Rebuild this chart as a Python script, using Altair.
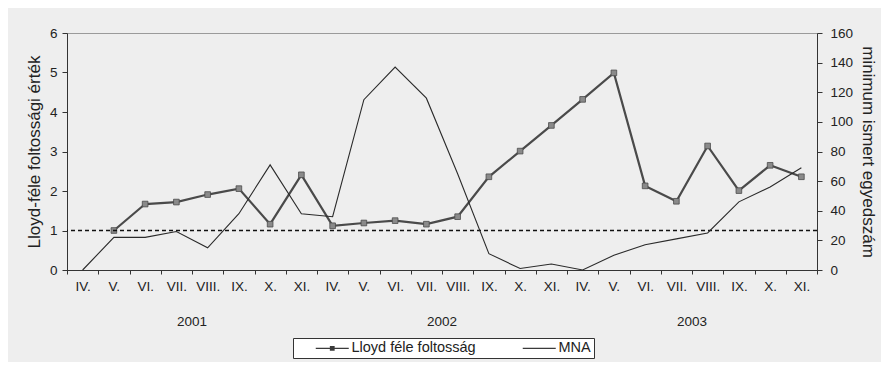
import altair as alt
import pandas as pd

# ---- data ----
months = ["IV.", "V.", "VI.", "VII.", "VIII.", "IX.", "X.", "XI."]
years = ["2001", "2002", "2003"]
lloyd = [None, 1.00, 1.67, 1.72, 1.91, 2.06, 1.16, 2.41,
         1.12, 1.19, 1.25, 1.16, 1.35, 2.36, 3.01, 3.66,
         4.32, 4.99, 2.13, 1.74, 3.14, 2.01, 2.65, 2.36]
mna = [0, 22, 22, 26, 15, 38, 71, 38,
       36, 115, 137, 116, 65, 11, 1, 4,
       0, 10, 17, 21, 25, 46, 56, 69]
threshold = [1]
series_names = ["Lloyd féle foltosság", "MNA"]
left_ticks = [0, 1, 2, 3, 4, 5, 6]
right_ticks = [0, 20, 40, 60, 80, 100, 120, 140, 160]

keys = [f"{y} {m}" for y in years for m in months]
df = pd.DataFrame({"key": keys, "lloyd": lloyd, "mna": mna})
year_df = pd.DataFrame({"year": years, "key": [f"{y} VII." for y in years]})
thr_df = pd.DataFrame({"t": threshold})
leg_df = pd.DataFrame({"series": series_names})

FONT = "Liberation Sans, Arial, sans-serif"
NARROW = "Liberation Sans Narrow, Arial Narrow, Liberation Sans, sans-serif"
LEFT_TITLE = "Lloyd-féle foltossági érték"
W, H = 750, 237

left_axis = alt.Axis(values=left_ticks, tickCount=7, tickSize=5, labelPadding=5,
                     titlePadding=6, grid=False, domainColor="#333",
                     tickColor="#333", labelFont=FONT, labelFontSize=13.5,
                     labelColor="#222", titleFont=FONT, titleFontSize=17,
                     titleFontWeight="normal", titleColor="#222")
left_scale = alt.Scale(domain=[0, 6])

xenc = alt.X(
    "key:N", sort=keys, title=None,
    scale=alt.Scale(type="band", paddingInner=0, paddingOuter=0),
    axis=alt.Axis(labelExpr="split(datum.label, ' ')[1]", labelAngle=0,
                  tickBand="extent", tickSize=4, labelPadding=5,
                  labelFont=NARROW, labelFontSize=13.5, labelColor="#222",
                  domainColor="#333", tickColor="#333", grid=False),
)

lloyd_line = alt.Chart(df).mark_line(color="#4a4a4a", strokeWidth=2.2).encode(
    x=xenc,
    y=alt.Y("lloyd:Q", title=LEFT_TITLE, scale=left_scale, axis=left_axis),
)
lloyd_pts = alt.Chart(df).mark_square(size=32, color="#8a8a8a", stroke="#4a4a4a",
                                      strokeWidth=0.8, opacity=1).encode(
    x=alt.X("key:N", sort=keys),
    y=alt.Y("lloyd:Q", title=LEFT_TITLE, scale=left_scale, axis=left_axis),
)
rule = alt.Chart(thr_df).mark_rule(color="#111", strokeWidth=1.6,
                                   strokeDash=[4, 3]).encode(
    y=alt.Y("t:Q", title=LEFT_TITLE, scale=left_scale, axis=left_axis),
)
year_text = alt.Chart(year_df).mark_text(font=FONT, fontSize=13.5, color="#222",
                                         baseline="middle").encode(
    x=alt.X("key:N", sort=keys, bandPosition=1),
    y=alt.value(H + 52),
    text="year:N",
)

# legend symbols: a line with a small (stroke-filled) square, and a plain line
pathL = ("M-2.75,0L2.75,0"
         "M-0.4,-0.3L0.4,-0.3M-0.4,-0.1L0.4,-0.1"
         "M-0.4,0.1L0.4,0.1M-0.4,0.3L0.4,0.3")
pathM = "M-2.75,0L2.75,0"
legend_layer = alt.Chart(leg_df).mark_point(size=0, filled=False, color="#3a3a3a",
                                            strokeWidth=1.3, opacity=1).encode(
    shape=alt.Shape("series:N",
                    scale=alt.Scale(domain=series_names, range=[pathL, pathM]),
                    legend=alt.Legend(title=None, orient="none", legendX=226,
                                      legendY=305, direction="horizontal",
                                      columns=2, symbolSize=144,
                                      symbolOffset=29, labelOffset=12,
                                      symbolStrokeWidth=1.3,
                                      symbolStrokeColor="#3a3a3a",
                                      padding=3, strokeColor="#333",
                                      fillColor="white", columnPadding=27,
                                      labelFont=FONT, labelFontSize=14.5,
                                      labelColor="#222")),
)

left = alt.layer(lloyd_line, lloyd_pts, rule, year_text, legend_layer)

mna_line = alt.Chart(df).mark_line(color="#2a2a2a", strokeWidth=1.1).encode(
    x=alt.X("key:N", sort=keys),
    y=alt.Y("mna:Q", title="minimum ismert egyedszám",
            scale=alt.Scale(domain=[0, 160]),
            axis=alt.Axis(orient="right", values=right_ticks, tickSize=5,
                          labelPadding=8, titlePadding=6, grid=False,
                          domainColor="#333", tickColor="#333",
                          labelFont=FONT, labelFontSize=13.5, labelColor="#222",
                          titleFont=FONT, titleFontSize=17,
                          titleFontWeight="normal", titleColor="#222")),
)

chart = alt.layer(left, mna_line).resolve_scale(y="independent").properties(
    width=W, height=H,
    autosize=alt.AutoSizeParams(type="none"),
    padding={"left": 59, "top": 25, "right": 64, "bottom": 92},
    background="#eeeeee",
).configure_view(fill="white", stroke="#9a9a9a")

chart.save("out.html", embed_options={"renderer": "svg", "actions": False})
